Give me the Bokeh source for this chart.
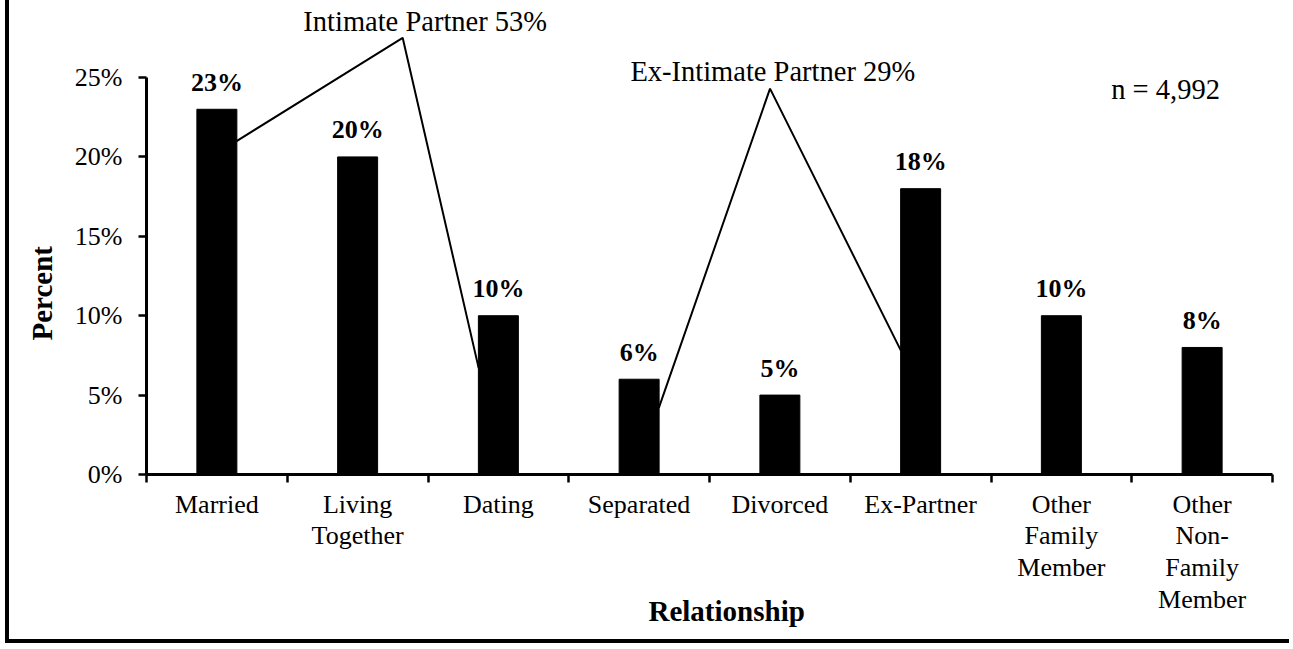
from bokeh.plotting import figure
from bokeh.models import Range1d, FixedTicker, PrintfTickFormatter, Title, ColumnDataSource
from bokeh.embed import file_html
from bokeh.resources import INLINE
from bokeh.core.properties import value

# ---------------- data ----------------
categories = ["Married", "Living\nTogether", "Dating", "Separated", "Divorced",
              "Ex-Partner", "Other\nFamily\nMember", "Other\nNon-\nFamily\nMember"]
percents = [23, 20, 10, 6, 5, 18, 10, 8]
value_labels = ["23%", "20%", "10%", "6%", "5%", "18%", "10%", "8%"]
y_ticks = [0, 5, 10, 15, 20, 25]

group_labels = ["Intimate Partner 53%", "Ex-Intimate Partner 29%"]
sample_label = "n = 4,992"
# callout polylines (x in category units, y in percent)
ip_x = [0.64, 1.82, 2.36]
ip_y = [21.0, 27.5, 6.7]
ex_x = [3.64, 4.43, 5.36]
ex_y = [4.2, 24.3, 7.8]

SERIF = "Liberation Serif"

# ---------------- figure ----------------
W, H = 1284, 643
p = figure(width=W, height=H, output_backend="svg", toolbar_location=None,
           x_range=Range1d(0, 8), y_range=Range1d(0, 29.85),
           min_border_left=135, min_border_right=21, min_border_top=0,
           min_border_bottom=169)
p.styles = {"margin-left": "5px", "border-left": "4px solid black",
            "border-bottom": "4px solid black"}
p.xgrid.visible = False
p.ygrid.visible = False
p.outline_line_color = None
p.background_fill_color = "white"
p.border_fill_color = "white"

centers = [i + 0.5 for i in range(len(categories))]
src = ColumnDataSource(dict(x=centers, top=percents, lab=value_labels))
p.vbar(x="x", top="top", width=0.284, source=src, fill_color="black", line_color="black")
p.text(x="x", y="top", text="lab", source=src, y_offset=-27,
       text_align="center", text_baseline="alphabetic",
       text_font=value(SERIF), text_font_style="bold", text_font_size="26px", text_color="black")

p.line(ip_x, ip_y, line_color="black", line_width=2)
p.line(ex_x, ex_y, line_color="black", line_width=2)

p.text(x=[1.98, 4.45, 7.24], y=[28.53, 25.37, 24.27],
       text=group_labels + [sample_label], text_align="center", text_baseline="alphabetic",
       text_font=value(SERIF), text_font_size="28.5px", text_color="black")

# x axis
xa = p.xaxis[0]
xa.ticker = FixedTicker(ticks=centers, minor_ticks=list(range(len(categories) + 1)))
xa.major_label_overrides = {c: lab for c, lab in zip(centers, categories)}
xa.major_tick_out = 0
xa.major_tick_in = 0
xa.minor_tick_out = 8
xa.minor_tick_in = 0
xa.minor_tick_line_width = 2.5
xa.minor_tick_line_color = "black"
xa.axis_line_width = 3
xa.axis_line_color = "black"
xa.major_label_standoff = 7
xa.major_label_text_font = SERIF
xa.major_label_text_font_size = "26px"
xa.major_label_text_line_height = 1.1
xa.major_label_text_color = "black"
xa.bounds = (0, 8)

ya = p.yaxis[0]
ya.ticker = FixedTicker(ticks=y_ticks, minor_ticks=[])
ya.formatter = PrintfTickFormatter(format="%d%%")
ya.bounds = (0, 25)
ya.major_tick_out = 8
ya.major_tick_in = 0
ya.major_tick_line_width = 2.5
ya.major_tick_line_color = "black"
ya.minor_tick_out = 0
ya.minor_tick_in = 0
ya.axis_line_width = 3
ya.axis_line_color = "black"
ya.major_label_standoff = 16
ya.major_label_text_font = SERIF
ya.major_label_text_font_size = "26px"
ya.major_label_text_color = "black"

p.add_layout(Title(text="Percent", align="left", offset=134, vertical_align="bottom",
                   standoff=28, text_font=SERIF, text_font_style="bold",
                   text_font_size="29px", text_color="black"), "left")
p.add_layout(Title(text="Relationship", align="left", offset=502, vertical_align="top",
                   standoff=-46, text_font=SERIF, text_font_style="bold",
                   text_font_size="29px", text_color="black"), "below")

open("out.html", "w").write(file_html(p, INLINE))
